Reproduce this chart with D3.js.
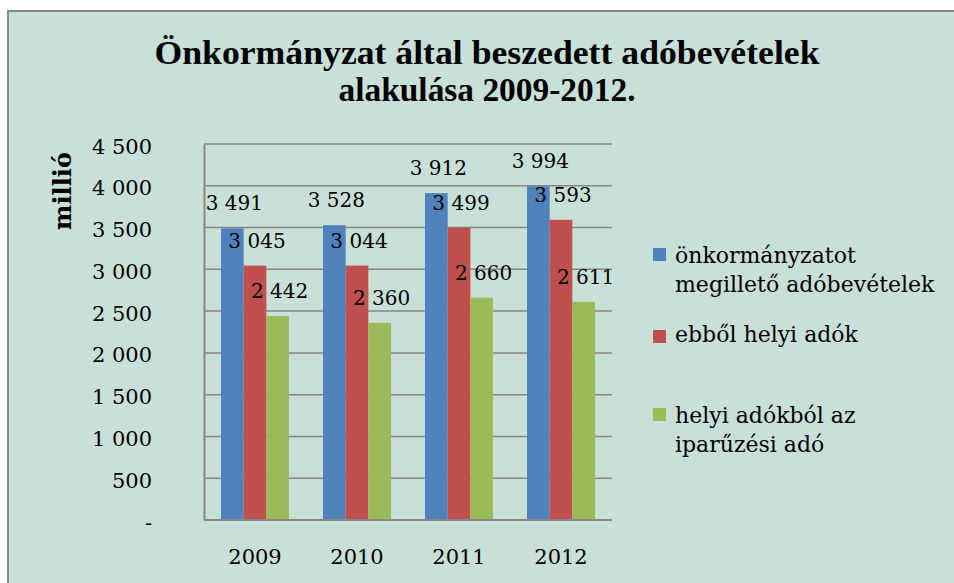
<!DOCTYPE html>
<html>
<head>
<meta charset="utf-8">
<script src="https://cdn.jsdelivr.net/npm/d3@7"></script>
<style>
  html, body { margin: 0; padding: 0; background: #fff; }
  svg { display: block; }
  .serif { font-family: "DejaVu Serif", serif; }
</style>
</head>
<body>
<div id="chart"></div>
<script>
// chart data
const years = ["2009", "2010", "2011", "2012"];
const totalTax = [3491, 3528, 3912, 3994];
const localTax = [3045, 3044, 3499, 3593];
const businessTax = [2442, 2360, 2660, 2611];
const seriesNames = [
  ["önkormányzatot", "megillető adóbevételek"],
  ["ebből helyi adók"],
  ["helyi adókból az", "iparűzési adó"],
];
const yTicks = [0, 500, 1000, 1500, 2000, 2500, 3000, 3500, 4000, 4500];
const titleLines = [
  "Önkormányzat által beszedett adóbevételek",
  "alakulása 2009-2012.",
];

const colors = ["#4F81BD", "#C0504D", "#9BBB59"];
const series = [totalTax, localTax, businessTax];

const width = 954,
  height = 583;
const plot = { left: 204, right: 612, top: 144, bottom: 520 };

const hu = d3.formatLocale({
  decimal: ",",
  thousands: " ",
  grouping: [3],
  currency: ["", ""],
});
const fmt = hu.format(",d");

const svg = d3
  .select("#chart")
  .append("svg")
  .attr("width", width)
  .attr("height", height);

// frame
svg
  .append("rect")
  .attr("x", 8)
  .attr("y", 11)
  .attr("width", width)
  .attr("height", height)
  .attr("fill", "#C9E0D8")
  .attr("stroke", "#888")
  .attr("stroke-width", 2);

// title
const titleWidths = [665, 297];
svg
  .append("g")
  .selectAll("text")
  .data(titleLines)
  .join("text")
  .attr("x", 487)
  .attr("y", (d, i) => 64 + i * 37)
  .attr("text-anchor", "middle")
  .attr("textLength", (d, i) => titleWidths[i])
  .attr("lengthAdjust", "spacingAndGlyphs")
  .style("font-family", '"Liberation Serif", serif')
  .style("font-weight", "bold")
  .style("font-size", "33px")
  .text((d) => d);

const x = d3
  .scaleBand()
  .domain(years)
  .range([plot.left, plot.right])
  .paddingInner(1 / 3)
  .paddingOuter(1 / 6);

const xs = d3
  .scaleBand()
  .domain(d3.range(series.length))
  .range([0, x.bandwidth()]);

const y = d3.scaleLinear().domain([0, 4500]).range([plot.bottom, plot.top]);

// gridlines
svg
  .append("g")
  .selectAll("line")
  .data(yTicks.slice(1))
  .join("line")
  .attr("x1", plot.left)
  .attr("x2", plot.right)
  .attr("y1", (d) => y(d))
  .attr("y2", (d) => y(d))
  .attr("stroke", "#878787")
  .attr("stroke-width", 1.5);

// y axis
const yAxis = svg
  .append("g")
  .attr("transform", `translate(${plot.left},0)`)
  .call(
    d3
      .axisLeft(y)
      .tickValues(yTicks)
      .tickSize(0)
      .tickPadding(52)
      .tickFormat((d) => (d === 0 ? "-" : fmt(d)))
  );
yAxis.select(".domain").attr("stroke", "#878787").attr("stroke-width", 2);
yAxis
  .selectAll("text")
  .attr("class", "serif")
  .attr("dy", null)
  .attr("y", 9)
  .attr("fill", "#000")
  .style("font-size", "21px");

// bars
const groups = svg
  .append("g")
  .selectAll("g")
  .data(series)
  .join("g")
  .attr("fill", (d, i) => colors[i]);

groups
  .selectAll("rect")
  .data((vals, si) => vals.map((v, i) => ({ v, year: years[i], si })))
  .join("rect")
  .attr("x", (d) => x(d.year) + xs(d.si))
  .attr("width", xs.bandwidth())
  .attr("y", (d) => y(d.v))
  .attr("height", (d) => y(0) - y(d.v));

// x axis
const xAxis = svg
  .append("g")
  .attr("transform", `translate(0,${plot.bottom})`)
  .call(d3.axisBottom(x).tickSize(0).tickPadding(0));
xAxis
  .select(".domain")
  .attr("d", `M${plot.left},0H${plot.right}`)
  .attr("stroke", "#878787")
  .attr("stroke-width", 2);
xAxis
  .selectAll("text")
  .attr("class", "serif")
  .attr("dy", null)
  .attr("y", 44)
  .attr("fill", "#000")
  .style("font-size", "21px");

// data labels
groups.each(function (vals, si) {
  d3.select(this)
    .selectAll("text")
    .data(vals.map((v, i) => ({ v, year: years[i] })))
    .join("text")
    .attr("class", "serif")
    .attr("x", (d) => x(d.year) + xs(si) + xs.bandwidth() / 2 + 2)
    .attr("y", (d) => y(d.v) - 18)
    .attr("text-anchor", "middle")
    .attr("fill", "#000")
    .style("font-size", "20px")
    .text((d) => fmt(d.v));
});

// y axis title
svg
  .append("text")
  .attr("class", "serif")
  .attr("transform", "translate(62,191) rotate(-90)")
  .attr("text-anchor", "middle")
  .attr("dominant-baseline", "central")
  .style("font-weight", "bold")
  .style("font-size", "24px")
  .text("millió");

// legend
const legendRows = [
  { sq: 248, base: [263, 292] },
  { sq: 330, base: [342] },
  { sq: 408, base: [423, 452] },
];
const legend = svg
  .append("g")
  .selectAll("g")
  .data(seriesNames)
  .join("g");

legend
  .append("rect")
  .attr("x", 653)
  .attr("y", (d, i) => legendRows[i].sq)
  .attr("width", 13)
  .attr("height", 13)
  .attr("fill", (d, i) => colors[i]);

legend
  .append("text")
  .attr("class", "serif")
  .style("font-size", "22px")
  .attr("fill", "#000")
  .each(function (lines, i) {
    d3.select(this)
      .selectAll("tspan")
      .data(lines)
      .join("tspan")
      .attr("x", 675)
      .attr("y", (d, j) => legendRows[i].base[j])
      .text((d) => d);
  });
</script>
</body>
</html>
